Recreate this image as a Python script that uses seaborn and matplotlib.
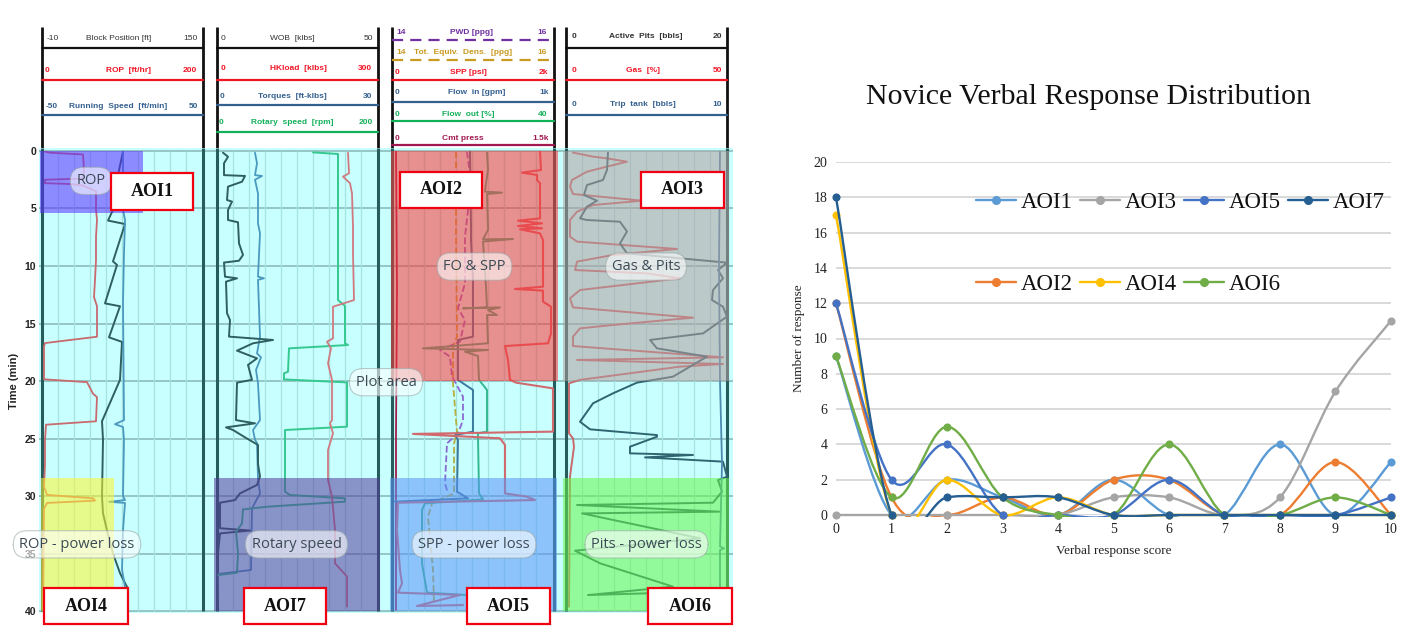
import numpy as np
import seaborn as sns
import matplotlib.pyplot as plt
from matplotlib.lines import Line2D
from matplotlib.patches import PathPatch, Rectangle
from matplotlib.path import Path

W, H = 1418, 643

# right chart
scores = [0, 1, 2, 3, 4, 5, 6, 7, 8, 9, 10]
aoi1 = [9, 0, 2, 1, 0, 2, 0, 0, 4, 0, 3]
aoi2 = [12, 1, 0, 1, 0, 2, 2, 0, 0, 3, 0]
aoi3 = [0, 0, 0, 0, 0, 1, 1, 0, 1, 7, 11]
aoi4 = [17, 0, 2, 0, 1, 0, 0, 0, 0, 0, 0]
aoi5 = [12, 2, 4, 0, 0, 0, 2, 0, 0, 0, 1]
aoi6 = [9, 1, 5, 1, 0, 0, 4, 0, 0, 1, 0]
aoi7 = [18, 0, 1, 1, 1, 0, 0, 0, 0, 0, 0]
series_names = ['AOI1', 'AOI2', 'AOI3', 'AOI4', 'AOI5', 'AOI6', 'AOI7']
series_colors = ['#5B9BD5', '#ED7D31', '#A5A5A5', '#FFC000', '#4472C4', '#70AD47', '#255E91']

# log tracks: depth of each curve in minutes, and position inside its track
rop_t = [.06, .15, .3, 1.65, 2.4, 2.5, 2.8, 2.87, 3, 3.5, 5.1, 6, 7.45, 9.5, 11.2, 12.7, 13.5, 16.15, 16.7, 17, 19.85, 20.1, 21.1, 21.4, 23.5, 23.8, 25.1, 27.2, 29.2, 29.9, 30.2, 30.4, 30.6, 31.1, 39.9]
rop_x = [3, 8, 41, 42, 41, 3, 3, 28, 41, 54, 54, 55, 54, 54, 53, 52, 55, 55, 3, 2, 2, 45, 51, 55, 54, 4, 3, 3, 2, 5, 51, 53, 5, 2, 1]
block_t = [.06, 2.5, 4.55, 6.05, 6.35, 9.6, 9.9, 13.25, 13.5, 16.2, 16.6, 19.9, 23.5, 25.1, 30.05, 31.5, 33, 35, 36.7, 37.9]
block_x = [81, 75, 74, 66, 83, 71, 75, 63, 78, 67, 80, 78, 60, 61, 60, 61, 65, 71, 78, 85]
speed_t = [.06, 5.1, 6, 8.9, 13.25, 23.4, 23.75, 24, 25.1, 30, 30.35, 30.5, 30.6, 33, 36.4, 37.9]
speed_x = [81, 81, 83, 82, 81, 82, 73, 81, 82, 81, 83, 67, 83, 81, 80, 83]

wob_t = [.15, .5, 1.07, 2.1, 2.17, 2.67, 3.1, 4.26, 4.4, 5.13, 6, 6.2, 8.03, 9.04, 9.54, 9.7, 10.93, 11.07, 11.36, 14.1, 14.7, 16.14, 16.43, 16.72, 17.36, 18.03, 18.6, 19.9, 20.14, 23.4, 23.68, 24.03, 24.26, 25, 25.56, 27.2, 28.3, 29.04, 29.77, 30.35, 30.58, 32.8, 33, 33.25, 35.85, 39.9]
wob_x = [6, 11, 7, 7, 28, 25, 11, 10, 15, 11, 11, 21, 22, 26, 22, 7, 8, 20, 9, 10, 13, 12, 56, 36, 20, 40, 31, 35, 20, 19, 38, 9, 16, 30, 41, 41, 43, 40, 23, 18, 3, 3, 33, 3, 0, 1]
torque_t = [.15, 1.07, 2.1, 2.17, 2.5, 3.7, 6.3, 7.16, 10.93, 11.07, 11.2, 16.14, 17.6, 17.94, 19.04, 20.2, 23.4, 24.26, 25.1, 25.4, 28.46, 29.77, 31.07, 36.43, 36.78, 39.9]
torque_x = [38, 40, 38, 45, 38, 41, 41, 43, 41, 47, 41, 43, 40, 44, 39, 41, 43, 36, 38, 40, 41, 43, 35, 34, 1, 1]
rotary_t = [.12, .26, 6, 12.96, 13.48, 16.72, 16.87, 17.16, 19.19, 19.33, 19.86, 20.12, 23.97, 24.26, 29.62, 29.91, 30.2, 30.49, 30.93, 31.16, 32.38, 33.1, 35, 36.67, 36.87]
rotary_x = [96, 121, 121, 121, 128, 128, 131, 72, 71, 67, 67, 130, 130, 68, 68, 73, 128, 128, 50, 26, 25, 19, 21, 20, 1]
hook_t = [.15, 1.94, 2.23, 2.8, 3.68, 6.58, 8.9, 12.96, 13.54, 16.29, 16.58, 17.16, 18.46, 19.9, 23.4, 23.68, 24.55, 26, 28.6, 30.05, 32.96, 35.85, 37, 39.62]
hook_x = [131, 132, 126, 133, 135, 136, 136, 137, 116, 116, 110, 114, 111, 115, 115, 113, 116, 111, 111, 115, 118, 118, 130, 130]

spp_t = [.06, 1.65, 1.88, 2.09, 2.52, 2.81, 5.86, 6.06, 6.29, 6.52, 6.72, 6.81, 7.16, 7.74, 11.8, 12, 12.14, 13.1, 13.54, 15.86, 16.72, 16.96, 18.17, 19.9, 20.14, 20.64, 24.4, 24.6, 24.98, 25.56, 29.77, 30.06, 30.35, 30.58, 32.96, 36.43, 37.6, 38.4, 38.6, 39.56, 39.48]
spp_x = [148, 149, 130, 145, 145, 148, 148, 126, 150, 126, 150, 128, 148, 151, 151, 123, 151, 151, 159, 159, 156, 113, 116, 118, 124, 161, 161, 21, 108, 113, 113, 135, 143, 6, 5, 8, 10, 6, 68, 25, 71]
cmt_t = [.06, 12, 24.6, 39.9]
cmt_x = [4, 5, 4, 4]
flow_out_t = [.14, 1.65, 2.81, 3.54, 3.62, 3.74, 6.58, 6.87, 7.68, 7.65, 7.88, 11.8, 13.6, 13.68, 13.6, 13.83, 14.26, 14.26, 16.72, 17.16, 17.3, 17.45, 17.83, 19.9, 20.78, 24.4, 24.55, 24.84, 29.77, 30.29, 30.64, 31.22, 35.85, 38.4, 38.6]
flow_out_x = [95, 96, 94, 93, 110, 95, 96, 96, 91, 121, 91, 94, 95, 71, 108, 96, 105, 95, 96, 31, 96, 73, 86, 87, 95, 95, 86, 86, 87, 91, 33, 30, 30, 35, 73]
flow_in_t = [.06, 6.58, 7.74, 11.2, 16.14, 16.43, 19.9, 20.2, 20.78, 24.4, 24.7, 25.13, 29.62, 30.2, 30.49]
flow_in_x = [78, 79, 79, 81, 81, 66, 66, 71, 81, 81, 63, 66, 65, 76, 3]
pwd_t = [.06, 1.36, 5.13, 7.45, 11.5, 13.68, 14.7, 16.58, 17.3, 17.88, 19.6, 21.36, 23.4, 24.55, 25.42, 28.9, 29.77]
pwd_x = [75, 77, 76, 73, 73, 66, 73, 68, 48, 58, 60, 71, 71, 66, 55, 53, 56]
ted_t = [.06, 6.87, 16.14, 17, 20.2, 24.4, 25.42, 29.77, 30.64, 31.8, 36.43, 39.33]
ted_x = [64, 64, 65, 61, 61, 65, 62, 62, 40, 36, 41, 42]

gas_t = [.14, .49, .64, .93, 1.36, 1.8, 2.52, 3.1, 3.74, 4.32, 4.7, 5.28, 6, 7.45, 7.88, 8.52, 9.04, 9.62, 10.35, 10.64, 11.07, 12.09, 12.81, 13.6, 14.49, 15.13, 15.42, 16.14, 16.96, 17.94, 18.17, 18.52, 18.75, 19.9, 20.2, 24.55, 24.99, 25.71, 28.32, 39.62]
gas_x = [7, 27, 41, 61, 41, 21, 6, 4, 7, 76, 27, 11, 4, 4, 11, 111, 47, 11, 9, 81, 114, 14, 4, 7, 127, 47, 14, 7, 7, 157, 11, 157, 114, 14, 3, 3, 7, 8, 4, 3]
pits_t = [.14, 1.65, 2.52, 2.96, 3.83, 4.32, 4.84, 5.86, 6, 6.15, 7, 8.03, 8.9, 9.71, 10.35, 11.07, 12.09, 12.96, 13.54, 14.4, 15.86, 16.43, 17.16, 17.88, 19.62, 20.14, 21.07, 21.94, 23.54, 24.2, 24.7, 24.84, 25.71, 26.29, 26.43, 26.64, 27.01, 28.32, 28.61, 29.62, 30.58, 30.78, 31.36, 31.51, 32.81, 33.68, 34.75, 35.85, 37.88, 38.61, 38.46]
pits_x = [42, 41, 37, 21, 18, 31, 21, 14, 21, 54, 61, 54, 61, 161, 152, 157, 147, 146, 157, 161, 137, 84, 91, 141, 107, 71, 47, 27, 14, 24, 91, 91, 64, 64, 127, 79, 157, 161, 152, 156, 147, 11, 154, 16, 87, 134, 9, 34, 107, 22, 81]
trip_t = [.06, 10, 20, 27.16, 34.4, 34.55, 34.7, 39.9]
trip_x = [154, 153, 154, 156, 154, 158, 154, 154]

track_names = ['block', 'wob', 'fluids', 'pits']
track_left = [42, 217, 392, 566]
track_right = [203, 378, 554, 727]
depth_ticks = [0, 5, 10, 15, 20, 25, 30, 35, 40]

aoi_colors = ['#5b2dff', '#ff3535', '#b29e9e', '#fff52d', '#5993f7', '#68f749', '#543a9b']

header_lines = [
    (48, '#111111', '-'), (80, '#f01525', '-'), (115, '#34608f', '-'),
    (48, '#111111', '-'), (80, '#f01525', '-'), (105, '#34608f', '-'), (132, '#13b05a', '-'),
    (40, '#7030a0', '--'), (60, '#c99a20', '--'), (80, '#f01525', '-'), (102, '#34608f', '-'), (121, '#13b05a', '-'), (145, '#a01850', '-'),
    (48, '#111111', '-'), (80, '#f01525', '-'), (115, '#34608f', '-'),
]
header_tracks = [0, 0, 0, 1, 1, 1, 1, 2, 2, 2, 2, 2, 2, 3, 3, 3]
header_labels = [
    ('-10', 'Block Position [ft]', '150', 53, 119, 190, 39),
    ('0', 'ROP  [ft/hr]', '200', 47, 128, 190, 70),
    ('-50', 'Running  Speed  [ft/min]', '50', 52, 118, 193, 106),
    ('0', 'WOB  [klbs]', '50', 223, 292, 368, 39),
    ('0', 'HKload  [klbs]', '300', 223, 298, 365, 69),
    ('0', 'Torques  [ft-klbs]', '30', 222, 292, 368, 96),
    ('0', 'Rotary  speed  [rpm]', '200', 221, 292, 366, 122),
    ('14', 'PWD [ppg]', '16', 401, 471, 542, 33),
    ('14', 'Tot.  Equiv.  Dens.  [ppg]', '16', 401, 463, 542, 52),
    ('0', 'SPP [psi]', '2k', 397, 468, 543, 72),
    ('0', 'Flow  in [gpm]', '1k', 397, 477, 544, 93),
    ('0', 'Flow  out [%]', '40', 397, 468, 543, 115),
    ('0', 'Cmt press', '1.5k', 397, 463, 541, 138),
    ('0', 'Active  Pits  [bbls]', '20', 574, 646, 717, 37),
    ('0', 'Gas  [%]', '50', 574, 643, 717, 70),
    ('0', 'Trip  tank  [bbls]', '10', 574, 643, 717, 105),
]

sns.set_theme(style='white')
plt.rcParams['font.family'] = ['Liberation Sans', 'DejaVu Sans']

fig = plt.figure(figsize=(W / 100, H / 100), dpi=100, facecolor='white')


def px_axes(left, top, right, bottom):
    return fig.add_axes([left / W, 1 - bottom / H, (right - left) / W, (bottom - top) / H])


# plots one log curve inside its track
def plot_curve(ax, track, depth, pos, color, lw=1.3, ls='-'):
    x = track_left[track] + np.array(pos)
    sns.lineplot(x=x, y=depth, sort=False, estimator=None, color=color, lw=lw,
                 linestyle=ls, ax=ax, zorder=3, legend=False)


# office style smooth line, written as real bezier segments
def smooth_path(xs, ys):
    pts = np.column_stack([xs, ys]).astype(float)
    verts = [pts[0]]
    codes = [Path.MOVETO]
    for i in range(len(pts) - 1):
        prev = pts[max(i - 1, 0)]
        nxt = pts[min(i + 2, len(pts) - 1)]
        verts += [pts[i] + (pts[i + 1] - prev) / 6, pts[i + 1] - (nxt - pts[i]) / 6, pts[i + 1]]
        codes += [Path.CURVE4] * 3
    return Path(verts, codes)


# header block above the tracks
ax_head = px_axes(0, 0, W, H)
ax_head.set_xlim(0, W)
ax_head.set_ylim(H, 0)
ax_head.axis('off')
for left, right in zip(track_left, track_right):
    ax_head.vlines([left, right], 27, 150, color='#111111', lw=2)
for (y, color, ls), track in zip(header_lines, header_tracks):
    ax_head.plot([track_left[track], track_right[track]], [y, y], color=color, lw=1.6, ls=ls,
                 dashes=(5, 3.2) if ls == '--' else (None, None))
for (y, color, ls), track, (lo, name, hi, x0, x1, x2, ty) in zip(header_lines, header_tracks, header_labels):
    bold = color != '#111111' or track == 3
    for label, x in ((lo, x0), (name, x1), (hi, x2)):
        ax_head.text(x, ty, label, color=color if color != '#111111' else '#333333', fontsize=6,
                     ha='center', va='center', fontweight='bold' if bold else 'normal')

# log panel
ax_log = px_axes(39, 148, 733, 613)
ax_log.set_zorder(2)
ax_log.set_facecolor('#c8ffff')
ax_log.set_xlim(39, 733)
ax_log.set_ylim(40.17, -0.26)
for s in ax_log.spines.values():
    s.set_visible(False)
ax_log.set_xticks([])
ax_log.set_yticks(depth_ticks)
ax_log.tick_params(axis='y', length=0, pad=2)
for t in ax_log.get_yticklabels():
    t.set_fontsize(7.5)
    t.set_fontweight('bold')
    t.set_color('#222222')
ax_log.set_ylabel('Time (min)', fontsize=8, fontweight='bold', labelpad=4, color='#222222')
ax_log.hlines(depth_ticks, 39, 733, color='#8cbcbc', lw=1.2, zorder=1)
for left, right in zip(track_left, track_right):
    ax_log.vlines(np.arange(left + 16, right - 8, 16), 0, 40, color='#a5e2e2', lw=0.9, zorder=1)
    ax_log.vlines([left, right], -0.26, 40, color='#265c5c', lw=2.2, zorder=2)

plot_curve(ax_log, 0, rop_t, rop_x, '#c96a6e')
plot_curve(ax_log, 0, block_t, block_x, '#2f5f5f', lw=1.4)
plot_curve(ax_log, 0, speed_t, speed_x, '#4a9abf')
plot_curve(ax_log, 1, torque_t, torque_x, '#4a9abf')
plot_curve(ax_log, 1, wob_t, wob_x, '#2f5f5f', lw=1.4)
plot_curve(ax_log, 1, rotary_t, rotary_x, '#35c98f', lw=1.4)
plot_curve(ax_log, 1, hook_t, hook_x, '#d07a80')
plot_curve(ax_log, 2, cmt_t, cmt_x, '#a0204a')
plot_curve(ax_log, 2, ted_t, ted_x, '#b5b040', ls='--')
plot_curve(ax_log, 2, pwd_t, pwd_x, '#8a6ad0', ls='--')
plot_curve(ax_log, 2, flow_in_t, flow_in_x, '#3a7a9f', lw=1.4)
plot_curve(ax_log, 2, flow_out_t, flow_out_x, '#35b88f', lw=1.4)
plot_curve(ax_log, 2, spp_t, spp_x, '#d06a6e', lw=1.5)
plot_curve(ax_log, 3, gas_t, gas_x, '#c96a6e', lw=1.4)
plot_curve(ax_log, 3, pits_t, pits_x, '#2f6570', lw=1.4)
plot_curve(ax_log, 3, trip_t, trip_x, '#4a8aaf')

# AOI shading: x span in pixels of the panel, y span in minutes
shades = [(40, 143, 0, 5.4, 0), (391, 558, 0, 20, 1), (563, 729, 0, 20, 2), (41, 114, 28.4, 40, 3),
          (390, 557, 28.4, 40, 4), (563, 729, 28.4, 40, 5), (214, 380, 28.4, 40, 6)]
for x0, x1, t0, t1, i in shades:
    ax_log.add_patch(Rectangle((x0, t0), x1 - x0, t1 - t0, facecolor=aoi_colors[i], alpha=0.55, lw=0, zorder=4))

pills = [('ROP', 91, 2.6), ('FO & SPP', 474.5, 10.05), ('Gas & Pits', 646, 10.05), ('Plot area', 386, 20.1),
         ('ROP - power loss', 77, 34.2), ('Rotary speed', 296.5, 34.2), ('SPP - power loss', 474, 34.2),
         ('Pits - power loss', 646.5, 34.2)]
for label, x, t in pills:
    ax_log.text(x, t, label, fontsize=10.5, family='Open Sans', color='#3c4a55', ha='center', va='center', zorder=5,
                clip_on=False, bbox=dict(boxstyle='round,pad=0.42,rounding_size=0.95', fc='white', alpha=0.6,
                                         ec='#9aa8a8', lw=0.8))

boxes = [('AOI1', 111, 193, 1.9, 5.13), ('AOI2', 400, 482, 1.8, 4.95), ('AOI3', 641, 724, 1.8, 4.95),
         ('AOI4', 44, 128, 38, 41.13), ('AOI7', 244, 326, 38, 41.13), ('AOI5', 467, 550, 38, 41.13),
         ('AOI6', 648, 732, 38, 41.13)]
for label, x0, x1, t0, t1 in boxes:
    ax_log.add_patch(Rectangle((x0, t0), x1 - x0, t1 - t0, fc='white', ec='#f00010', lw=1.6, zorder=6, clip_on=False))
    ax_log.text((x0 + x1) / 2, (t0 + t1) / 2, label, fontsize=13, fontweight='bold', family='Liberation Serif',
                color='#111111', ha='center', va='center', zorder=7, clip_on=False)

# response chart
ax = px_axes(836, 162, 1391, 515)
ax.set_zorder(3)
ax.set_xlim(0, 10)
ax.set_ylim(0, 20)
sns.despine(ax=ax, left=True, bottom=True)
ax.set_xticks(scores)
ax.set_yticks(np.arange(0, 21, 2))
ax.yaxis.grid(True, color='#d9d9d9', lw=1.4)
ax.xaxis.grid(False)
ax.set_axisbelow(True)
ax.tick_params(length=0, labelsize=10, pad=6)
for t in ax.get_xticklabels() + ax.get_yticklabels():
    t.set_family('Liberation Serif')
    t.set_color('#222222')
ax.set_xlabel('Verbal response score', fontsize=9.5, family='Liberation Serif', color='#222222', labelpad=6)
ax.set_ylabel('Number of response', fontsize=9.5, family='Liberation Serif', color='#222222', labelpad=6)

all_series = [aoi1, aoi2, aoi3, aoi4, aoi5, aoi6, aoi7]
handles = []
for i, (values, name, color) in enumerate(zip(all_series, series_names, series_colors)):
    patch = PathPatch(smooth_path(scores, values), fc='none', ec=color, lw=1.7, zorder=3 + i)
    ax.add_patch(patch)
    patch.set_clip_path(Rectangle((-1, -0.14), 12, 22, transform=ax.transData))
    sns.scatterplot(x=scores, y=values, color=color, s=34, linewidth=0, ax=ax, zorder=3 + i, clip_on=False, legend=False)
    handles.append(Line2D([], [], color=color, lw=1.7, marker='o', ms=5.5, label=name))

leg = ax.legend(handles=handles, ncol=4, loc='upper left', bbox_to_anchor=(976 / W, 1 - 192 / H),
                bbox_transform=fig.transFigure, frameon=False, borderpad=0, borderaxespad=0,
                handlelength=1.75, handletextpad=0.2, columnspacing=0.32, labelspacing=2.65,
                prop={'family': 'Liberation Serif', 'size': 16.5})
for t in leg.get_texts():
    t.set_color('#111111')

fig.text(1089 / W, 1 - 97 / H, 'Novice Verbal Response Distribution', fontsize=21.5, family='Liberation Serif',
         color='#111111', ha='center', va='center')

fig.savefig('out.png', dpi=100)
